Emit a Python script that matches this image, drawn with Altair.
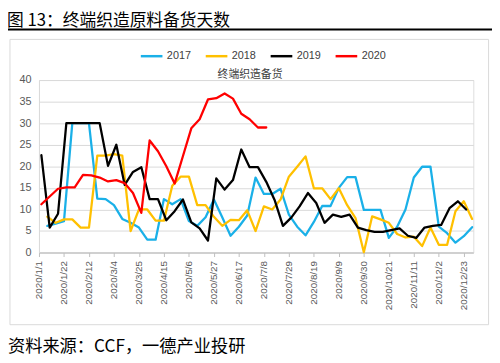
import altair as alt
import pandas as pd

SERIES = ["2017", "2018", "2019", "2020"]
COLORS = ["#1AB0E8", "#FFC000", "#000000", "#FF0000"]

# first weekly observation of each year, placed on the 2020 calendar axis
STARTS = {"2017": "2020-01-08", "2018": "2020-01-08", "2019": "2020-01-03", "2020": "2020-01-03"}

V2017 = [6.2, 6.7, 7.3, 30, 30, 30, 12.5, 12.4, 11.0, 7.8,
         6.9, 5.8, 3.0, 3.0, 12.4, 11.2, 12.4, 7.3, 6.2, 8.2,
         12.3, 8.2, 3.9, 6.0, 8.6, 17.4, 13.6, 13.6, 14.8, 8.8,
         6.0, 4.0, 7.1, 10.8, 10.8, 15.0, 17.5, 17.5, 9.9, 9.9,
         9.9, 3.4, 6.0, 10.0, 17.4, 19.9, 19.9, 6.0, 4.5, 2.3,
         3.8, 5.9]
V2018 = [8.3, 6.9, 7.7, 7.7, 5.8, 5.8, 22.5, 22.5, 22.8, 22.5,
         5.0, 10.0, 10.0, 7.4, 7.4, 15.5, 17.6, 17.6, 11.0, 11.0,
         8.3, 6.2, 7.6, 7.5, 9.8, 5.0, 10.7, 10.0, 12.3, 17.6,
         19.9, 22.3, 14.9, 14.9, 12.4, 14.9, 11.0, 8.0, 0.1, 8.4,
         7.7, 6.9, 4.3, 3.5, 3.7, 1.5, 5.8, 1.8, 1.8, 9.6,
         11.9, 7.8]
V2019 = [22.6, 5.8, 9.0, 30, 30, 30, 30, 30, 20.1, 25.0,
         15.7, 18.7, 19.8, 12.4, 12.4, 7.5, 9.6, 12.3, 7.0, 5.6,
         2.8, 17.2, 14.6, 16.8, 23.9, 19.8, 19.8, 16.4, 12.2, 6.2,
         8.1, 10.7, 13.8, 11.5, 6.9, 8.8, 8.3, 8.8, 5.8, 5.2,
         4.8, 4.8, 5.2, 5.6, 3.9, 3.4, 5.8, 6.2, 6.4, 10.3,
         11.9, 10.0]
V2020 = [11.2, 13.0, 14.8, 15.1, 15.1, 18.0, 17.9, 17.4, 16.5, 16.8,
         16.1, 13.8, 9.2, 26.0, 23.5, 20.0, 16.0, 22.4, 28.8, 30.9,
         35.5, 35.8, 36.9, 35.7, 32.2, 30.9, 29.0, 29.0]
VALUES = {"2017": V2017, "2018": V2018, "2019": V2019, "2020": V2020}

TICK_LABELS = ["2020/1/1", "2020/1/22", "2020/2/12", "2020/3/4", "2020/3/25",
               "2020/4/15", "2020/5/6", "2020/5/27", "2020/6/17", "2020/7/8",
               "2020/7/29", "2020/8/19", "2020/9/9", "2020/9/30", "2020/10/21",
               "2020/11/11", "2020/12/2", "2020/12/23"]
Y_TICKS = [0, 5, 10, 15, 20, 25, 30, 35, 40]

TITLE = "图 13：终端织造原料备货天数"
SUBTITLE = "终端织造备货"
SOURCE = "资料来源：CCF，一德产业投研"

rows = []
for s in SERIES:
    dates = pd.date_range(STARTS[s], periods=len(VALUES[s]), freq="7D")
    for d, v in zip(dates, VALUES[s]):
        rows.append({"series": s, "date": d.strftime("%Y-%m-%d"), "value": v})
df = pd.DataFrame(rows)


def to_dt(label):
    y, m, d = (int(p) for p in label.split("/"))
    return alt.DateTime(year=y, month=m, date=d, utc=True)


tick_values = [to_dt(t) for t in TICK_LABELS]

NUM_FONT = "Liberation Sans"
CJK_FONT = "Noto Sans CJK SC"

lines = alt.Chart(df).mark_line(strokeWidth=2.3, strokeJoin="round", strokeCap="round").encode(
    x=alt.X("date:T",
            scale=alt.Scale(type="utc", domain=[to_dt("2020/1/1"), to_dt("2020/12/31")]),
            axis=alt.Axis(values=tick_values,
                          labelExpr="utcFormat(datum.value, '%Y/%-m/%-d')",
                          labelAngle=270, labelAlign="right", labelBaseline="middle",
                          labelFont=NUM_FONT, labelFontSize=10, labelColor="#595959",
                          labelPadding=4, tickSize=4, tickColor="#bfbfbf",
                          domainColor="#bfbfbf", grid=False, labelOverlap=False,
                          labelFlush=False, title=None)),
    y=alt.Y("value:Q",
            scale=alt.Scale(domain=[0, 40]),
            axis=alt.Axis(values=Y_TICKS, labelFont=NUM_FONT, labelFontSize=11,
                          labelColor="#595959", labelPadding=8, ticks=False,
                          domainColor="#d9d9d9", gridColor="#d9d9d9", grid=True,
                          title=None)),
    color=alt.Color("series:N",
                    scale=alt.Scale(domain=SERIES, range=COLORS),
                    legend=alt.Legend(orient="none", legendX=102, legendY=-37,
                                      direction="horizontal", title=None,
                                      symbolType="stroke", symbolSize=484,
                                      symbolStrokeWidth=2.5, labelFont=NUM_FONT,
                                      labelFontSize=11, labelColor="#404040",
                                      labelOffset=3, columnPadding=9, padding=0)),
    order=alt.Order("date:T"),
)

one = pd.DataFrame({"a": [0]})

frame = alt.Chart(one).mark_rect(fillOpacity=0, stroke="#d9d9d9", strokeWidth=1).encode(
    x=alt.value(-29.5), x2=alt.value(457), y=alt.value(-41.3), y2=alt.value(248.7))

rule_top = alt.Chart(one).mark_rule(color="#000000", strokeWidth=2).encode(
    x=alt.value(-31.5), x2=alt.value(460.5), y=alt.value(-51.3))

title = alt.Chart(pd.DataFrame({"t": [TITLE]})).mark_text(
    align="left", baseline="middle", font=CJK_FONT, fontSize=17, color="#000000").encode(
    text="t:N", x=alt.value(-32.5), y=alt.value(-60.3))

subtitle = alt.Chart(pd.DataFrame({"t": [SUBTITLE]})).mark_text(
    align="center", baseline="middle", font=CJK_FONT, fontSize=11, color="#404040").encode(
    text="t:N", x=alt.value(214.5), y=alt.value(-4.8))

source = alt.Chart(pd.DataFrame({"t": [SOURCE]})).mark_text(
    align="left", baseline="middle", font=CJK_FONT, fontSize=17.5, color="#000000").encode(
    text="t:N", x=alt.value(-31.5), y=alt.value(271.7))

chart = alt.layer(frame, rule_top, lines, title, subtitle, source).properties(
    width=441.5, height=175.4,
    autosize=alt.AutoSizeParams(type="none"),
    padding={"left": 31.5, "top": 70.3, "right": 19, "bottom": 109.3},
).configure_view(stroke=None).configure(background="#ffffff")

chart.save("out.html", embed_options={"renderer": "svg", "actions": False})
